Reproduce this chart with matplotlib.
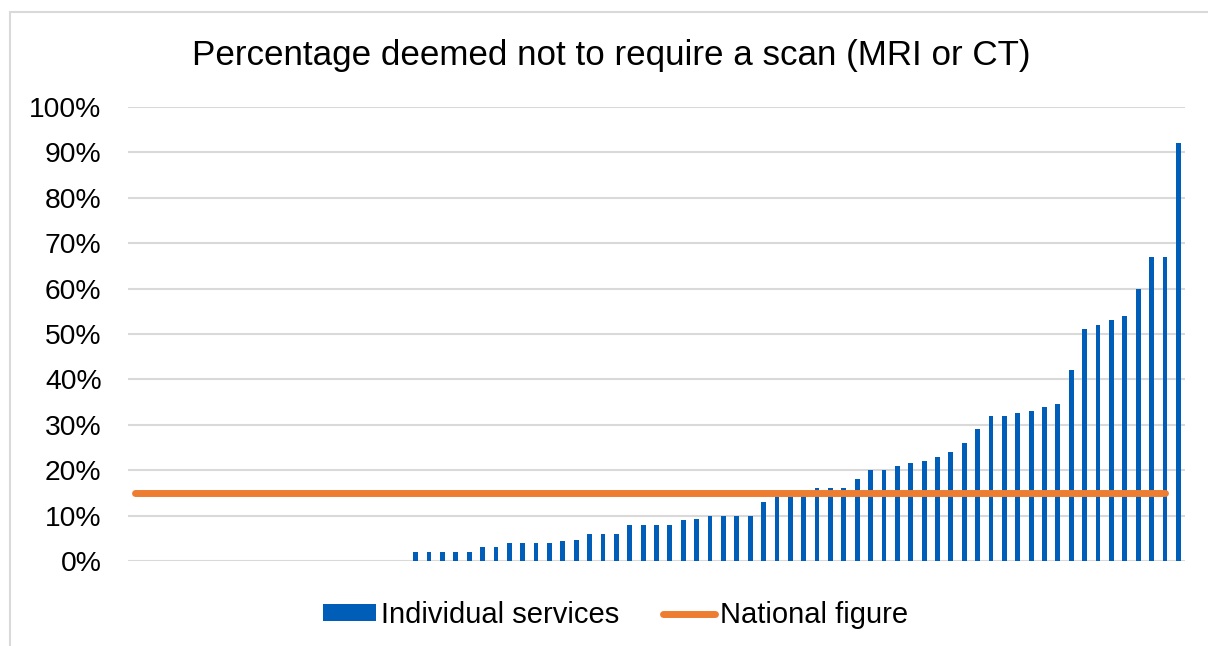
import numpy as np
import matplotlib
matplotlib.use("Agg")
import matplotlib.pyplot as plt
from matplotlib.patches import Rectangle
from matplotlib.ticker import PercentFormatter

plt.rcParams['font.family'] = ['Liberation Sans', 'DejaVu Sans']

# services with no reported value (empty categories on the left)
n_empty = 21
# individual service percentages, sorted ascending
service_values = [2, 2, 2, 2, 2, 3, 3, 4, 4, 4, 4, 4.4, 4.7, 6, 6, 6,
                  8, 8, 8, 8, 9, 9.2, 10, 10, 10, 10, 13, 14, 14, 14.5,
                  16, 16, 16, 18, 20, 20, 21, 21.6, 22, 23, 24, 26, 29,
                  32, 32, 32.5, 33, 34, 34.5, 42, 51, 52, 53, 54, 60,
                  67, 67, 92]
national_figure = 15
n_national_points = 78
yticks = [0, 10, 20, 30, 40, 50, 60, 70, 80, 90, 100]

title = "Percentage deemed not to require a scan (MRI or CT)"
bar_label = "Individual services"
line_label = "National figure"

blue = "#005EB8"
orange = "#ED7D31"
grid_col = "#D9D9D9"

values = [np.nan] * n_empty + service_values
x = np.arange(len(values))

fig = plt.figure(figsize=(12.08, 6.46), dpi=100)
# outer chart border
fig.patches.append(Rectangle((10 / 1208, -0.1), 1.2, 1 - 12 / 646 + 0.1,
                             transform=fig.transFigure, fill=False,
                             edgecolor=grid_col, linewidth=1.5))

ax = fig.add_axes([128 / 1208, 1 - 561 / 646, (1185 - 128) / 1208, (561 - 107) / 646])

bars = ax.bar(x, values, width=0.36, color=blue, label=bar_label, zorder=2)
line, = ax.plot(x[:n_national_points], [national_figure] * n_national_points,
                color=orange, linewidth=5, solid_capstyle='round', label=line_label, zorder=3)

ax.set_xlim(-0.5, len(values) - 0.5)
ax.set_ylim(0, 100)
ax.set_yticks(yticks)
ax.yaxis.set_major_formatter(PercentFormatter(decimals=0))
ax.set_xticks([])
ax.tick_params(axis='y', length=0, pad=19, labelsize=20.3)
ax.grid(axis='y', color=grid_col, linewidth=1.5, zorder=0)
ax.set_axisbelow(True)
for s in ax.spines.values():
    s.set_visible(False)

fig.text(611 / 1208, 1 - 55 / 646, title, ha='center', va='center', fontsize=25.2)

fig.legend([bars, line], [bar_label, line_label], loc='center',
           bbox_to_anchor=(616 / 1208, 1 - 615 / 646), ncol=2,
           frameon=False, fontsize=21, handlelength=1.8, handleheight=0.5,
           handletextpad=0.17, columnspacing=1.5)

fig.savefig("out.png", dpi=100)
